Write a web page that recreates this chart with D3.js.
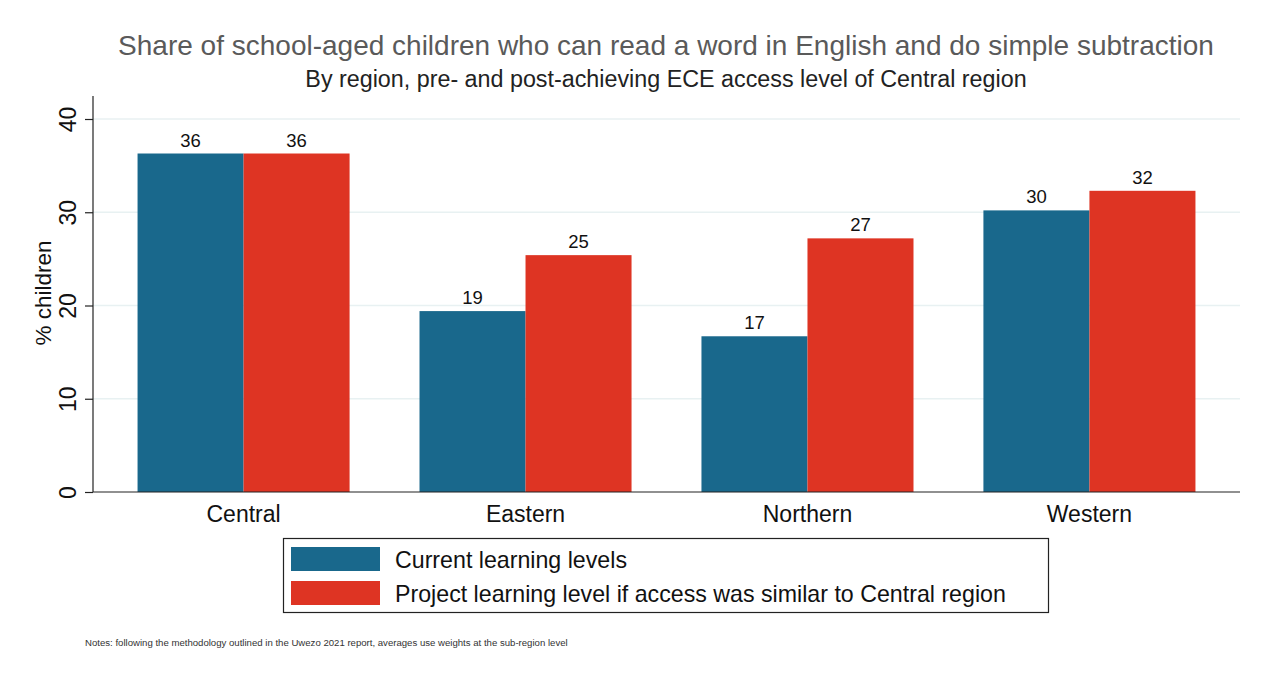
<!DOCTYPE html>
<html>
<head>
<meta charset="utf-8">
<script src="https://cdn.jsdelivr.net/npm/d3@7"></script>
<style>
  html, body { margin: 0; padding: 0; background: #fff; }
  svg { display: block; font-family: "Liberation Sans", Arial, Helvetica, sans-serif; }
</style>
</head>
<body>
<svg id="chart" width="1264" height="675"></svg>
<script>
// Regions and the two series (% of children)
const regions = ["Central", "Eastern", "Northern", "Western"];
const currentLevels = [36.3, 19.4, 16.7, 30.2];
const projectedLevels = [36.3, 25.4, 27.2, 32.3];
const seriesNames = ["Current learning levels", "Project learning level if access was similar to Central region"];
const seriesColors = ["#19688c", "#de3423"];
const yTicks = [0, 10, 20, 30, 40];

const titleText = "Share of school-aged children who can read a word in English and do simple subtraction";
const subtitleText = "By region, pre- and post-achieving ECE access level of Central region";
const yAxisTitle = "% children";
const noteText = "Notes: following the methodology outlined in the Uwezo 2021 report, averages use weights at the sub-region level";

const svg = d3.select("#chart");
const plot = { left: 93, right: 1240, top: 96, bottom: 492 };

const x0 = d3.scaleBand()
  .domain(regions)
  .range([plot.left, plot.right])
  .paddingInner(0.248)
  .paddingOuter(0.158);
const x1 = d3.scaleBand()
  .domain([0, 1])
  .range([0, x0.bandwidth()]);
const y = d3.scaleLinear().domain([0, 40]).range([plot.bottom, 119]);

// Gridlines
svg.append("g")
  .selectAll("line")
  .data(yTicks.filter(t => t > 0))
  .join("line")
  .attr("x1", plot.left).attr("x2", plot.right)
  .attr("y1", d => y(d)).attr("y2", d => y(d))
  .attr("stroke", "#e8f1f2").attr("stroke-width", 1.5);

// Bars
const rows = regions.map((r, i) => ({ region: r, values: [currentLevels[i], projectedLevels[i]] }));
const groups = svg.append("g")
  .selectAll("g")
  .data(rows)
  .join("g")
  .attr("transform", d => `translate(${x0(d.region)},0)`);

groups.selectAll("rect")
  .data(d => d.values.map((v, k) => ({ v, k })))
  .join("rect")
  .attr("x", d => x1(d.k))
  .attr("width", x1.bandwidth())
  .attr("y", d => y(d.v))
  .attr("height", d => y(0) - y(d.v))
  .attr("fill", d => seriesColors[d.k]);

groups.selectAll("text")
  .data(d => d.values.map((v, k) => ({ v, k })))
  .join("text")
  .attr("x", d => x1(d.k) + x1.bandwidth() / 2)
  .attr("y", d => y(d.v) - 7)
  .attr("text-anchor", "middle")
  .attr("font-size", 18.5)
  .attr("fill", "#111")
  .text(d => d3.format(".0f")(d.v));

// Y axis
const yAxis = svg.append("g")
  .attr("transform", `translate(${plot.left},0)`)
  .call(d3.axisLeft(y).tickValues(yTicks).tickSize(8).tickPadding(8).tickFormat(d3.format("d")));
yAxis.select(".domain").attr("d", `M0,${plot.top}V${plot.bottom}`).attr("stroke", "#222").attr("stroke-width", 1.2);
yAxis.selectAll(".tick line").attr("stroke", "#222").attr("stroke-width", 1.2);
yAxis.selectAll(".tick text")
  .attr("font-size", 23)
  .attr("fill", "#111")
  .attr("text-anchor", "middle")
  .attr("x", 0)
  .attr("y", 0)
  .attr("dy", null)
  .attr("transform", "translate(-17,0) rotate(-90)");

// X axis
const xAxis = svg.append("g")
  .attr("transform", `translate(0,${plot.bottom})`)
  .call(d3.axisBottom(x0).tickSize(0).tickPadding(0));
xAxis.select(".domain").attr("d", `M${plot.left},0H${plot.right}`).attr("stroke", "#222").attr("stroke-width", 1.2);
xAxis.selectAll(".tick text")
  .attr("font-size", 23)
  .attr("fill", "#111")
  .attr("dy", null)
  .attr("y", 30);

// Y axis title
svg.append("text")
  .attr("transform", `translate(51,${(plot.top + plot.bottom) / 2 - 1}) rotate(-90)`)
  .attr("text-anchor", "middle")
  .attr("font-size", 22.5)
  .attr("fill", "#111")
  .text(yAxisTitle);

// Titles
svg.append("text")
  .attr("x", 666).attr("y", 55)
  .attr("text-anchor", "middle")
  .attr("font-size", 28)
  .attr("fill", "#5a5a5a")
  .text(titleText);
svg.append("text")
  .attr("x", 666).attr("y", 87)
  .attr("text-anchor", "middle")
  .attr("font-size", 23.3)
  .attr("fill", "#222")
  .text(subtitleText);

// Legend
const legend = svg.append("g");
legend.append("rect")
  .attr("x", 283.5).attr("y", 538.5).attr("width", 765).attr("height", 74)
  .attr("fill", "#fff").attr("stroke", "#222").attr("stroke-width", 1.2);
seriesNames.forEach((name, i) => {
  legend.append("rect")
    .attr("x", 291).attr("y", 547 + i * 34).attr("width", 89).attr("height", 24)
    .attr("fill", seriesColors[i]);
  legend.append("text")
    .attr("x", 395).attr("y", 568 + i * 34)
    .attr("font-size", 23.2)
    .attr("fill", "#111")
    .text(name);
});

// Note
svg.append("text")
  .attr("x", 85).attr("y", 646)
  .attr("font-size", 9.6)
  .attr("fill", "#333")
  .text(noteText);
</script>
</body>
</html>
